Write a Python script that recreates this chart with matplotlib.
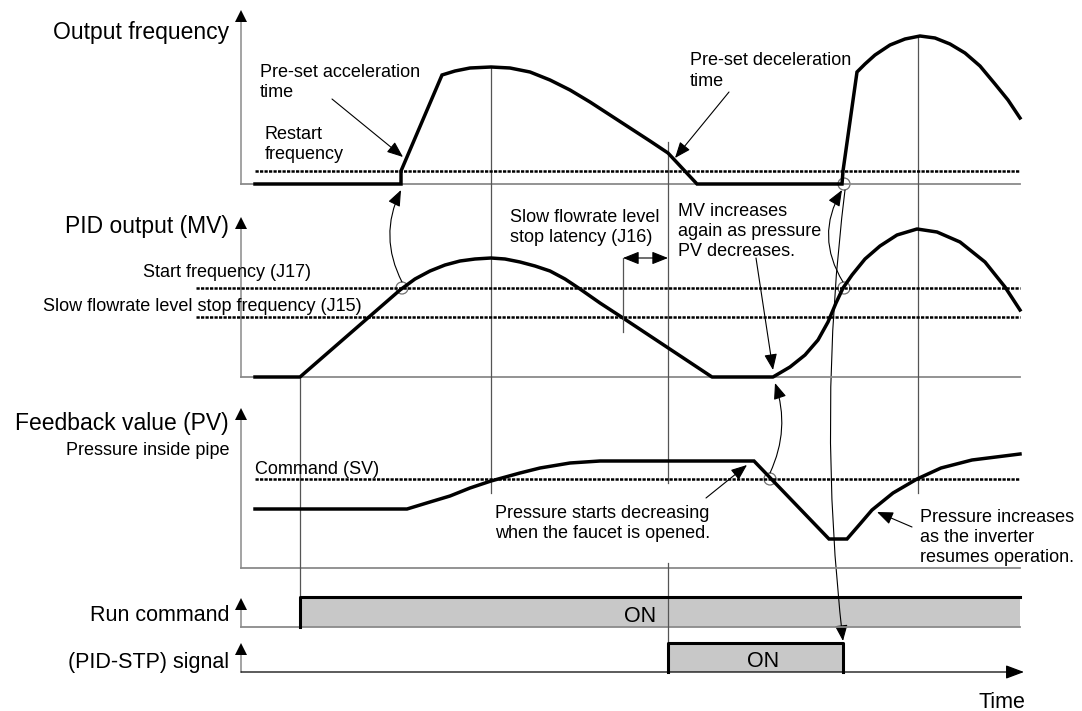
import matplotlib
matplotlib.use('Agg')
from matplotlib import pyplot as plt
from matplotlib.patches import Circle, FancyArrowPatch

plt.rcParams.update({'font.family': ['Liberation Sans', 'DejaVu Sans'], 'font.size': 13})
NARROW = ['Liberation Sans Narrow', 'Liberation Sans', 'DejaVu Sans']

# diagram units = pixels of the reference picture (y grows downward)
# output frequency waveform
freq_x = [255, 401, 401, 442, 455, 470, 491, 510, 530, 550, 570, 590, 610, 630, 650, 668, 697,
          842, 843, 857, 865, 875, 890, 905, 920, 935, 950, 965, 980, 995, 1008, 1020]
freq_y = [184, 184, 171, 75, 71, 68, 67, 68, 72, 80, 90, 102, 115, 128, 141, 153, 184,
          184, 171, 72, 64, 55, 45, 39, 36, 38, 44, 53, 66, 84, 100, 118]

# PID output (MV)
mv_x = [255, 300, 400, 415, 430, 445, 460, 475, 491, 505, 520, 535, 550, 565, 580, 600, 623, 712,
        773, 790, 805, 818, 828, 836, 843, 852, 865, 880, 897, 917, 937, 960, 985, 1005, 1020]
mv_y = [377, 377, 290, 279, 271, 265, 261, 259, 258, 259, 262, 266, 271, 279, 289, 303, 318, 377,
        377, 367, 355, 340, 322, 303, 288, 275, 259, 246, 235, 229, 232, 242, 262, 287, 310]

# feedback value (PV)
pv_x = [255, 407, 430, 450, 470, 491, 520, 540, 570, 600, 754, 829, 847, 860, 872, 893, 917, 941, 972, 996, 1020]
pv_y = [509, 509, 502, 496, 488, 481, 473, 468, 463, 461, 461, 539, 539, 524, 510, 493, 479, 468, 460, 457, 454]

# digital signals: on/off times and levels (low, high)
run_on = [300, 1020]
run_lv = [627, 597]
stp_on = [668, 843]
stp_lv = [672, 643]

# reference levels
restart_lv = 171
j17_lv = 288
j15_lv = 317
sv_lv = 479

# panel baselines and axis tops
base_y = [184, 377, 568, 627, 672]
axis_top = [10, 217, 408, 598, 643]
axis_x = 241
x_end = 1020

# event marker lines (x, y from, y to)
events = [(300, 377, 597), (491, 67, 493), (668, 142, 483), (668, 563, 643), (918, 36, 493)]

# crossing circles
circles_x = [844, 402, 844, 770]
circles_y = [184, 288, 288, 479]

fig = plt.figure(figsize=(10.82, 7.11), dpi=100)
ax = fig.add_axes([0, 0, 1, 1])
ax.set_xlim(0, 1082)
ax.set_ylim(711, 0)
ax.axis('off')

axc = '#8a8a8a'
thick = 2.5

# axes
for b, t in zip(base_y, axis_top):
    ax.plot([axis_x, axis_x], [b, t + 6], color=axc, lw=1.1)
    ax.plot(axis_x, t + 6, marker='^', color='k', ms=8, mew=0)
for b in base_y[:4]:
    ax.plot([axis_x, x_end], [b, b], color=axc, lw=1.3)
ax.annotate('', xy=(1024, base_y[4]), xytext=(axis_x, base_y[4]),
            arrowprops=dict(arrowstyle='-|>,head_length=0.8,head_width=0.3', color='k', lw=0.9,
                            mutation_scale=14, shrinkA=0, shrinkB=0))

# event lines
for x, y0, y1 in events:
    ax.plot([x, x], [y0, y1], color='#555555', lw=0.9)

# dashed reference levels
dash = dict(color='k', lw=1.8, dashes=(1.3, 0.5))
ax.plot([255, x_end], [restart_lv, restart_lv], **dash)
ax.plot([196, x_end], [j17_lv, j17_lv], **dash)
ax.plot([196, x_end], [j15_lv, j15_lv], **dash)
ax.plot([255, x_end], [sv_lv, sv_lv], **dash)

# waveforms
ax.plot(freq_x, freq_y, color='k', lw=thick, solid_joinstyle='miter')
ax.plot(mv_x, mv_y, color='k', lw=thick, solid_joinstyle='round')
ax.plot(pv_x, pv_y, color='k', lw=thick, solid_joinstyle='miter')

# digital signals
ax.fill_between(run_on, run_lv[0], run_lv[1], color='#c8c8c8', lw=0)
ax.plot([run_on[0], run_on[0], run_on[1]], [run_lv[0], run_lv[1], run_lv[1]], color='k', lw=2.2)
ax.fill_between(stp_on, stp_lv[0], stp_lv[1], color='#c8c8c8', lw=0)
ax.plot([stp_on[0], stp_on[0], stp_on[1], stp_on[1]], [stp_lv[0], stp_lv[1], stp_lv[1], stp_lv[0]],
        color='k', lw=2.2)

# circles
for cx, cy in zip(circles_x, circles_y):
    ax.add_patch(Circle((cx, cy), 6, fill=False, ec='#707070', lw=0.9))

# annotation arrows
def arrow(p0, p1, rad=0.0, style='-|>'):
    a = FancyArrowPatch(p0, p1, connectionstyle=f'arc3,rad={rad}',
                        arrowstyle=f'{style},head_length=0.7,head_width=0.28',
                        mutation_scale=14, color='k', lw=0.8, shrinkA=0, shrinkB=0)
    ax.add_patch(a)

arrow((332, 99), (403, 157))
arrow((729, 92), (675, 158))
arrow((756, 258), (773, 370))
arrow((706, 498), (747, 465))
arrow((912, 527), (877, 512))
arrow((623, 258), (668, 258), style='<|-|>')
ax.plot([623, 623], [258, 332], color='#555555', lw=0.9)
arrow((402, 282), (401, 190), rad=-0.25)
arrow((843, 282), (842, 190), rad=-0.3)
arrow((770, 473), (775, 383), rad=0.2)
arrow((845, 190), (843, 641), rad=0.06)

# labels
big = 16.5
ax.text(229, 39, 'Output frequency', fontsize=big, ha='right', va='baseline')
ax.text(229, 233, 'PID output (MV)', fontsize=big, ha='right', va='baseline')
ax.text(229, 430, 'Feedback value (PV)', fontsize=big, ha='right', va='baseline')
ax.text(229, 455, 'Pressure inside pipe', ha='right', va='baseline')
ax.text(229, 621, 'Run command', fontsize=15.5, family=NARROW, ha='right', va='baseline')
ax.text(229, 668, '(PID-STP) signal', fontsize=15.5, family=NARROW, ha='right', va='baseline')
ax.text(1025, 708, 'Time', fontsize=15.5, family=NARROW, ha='right', va='baseline')
ax.text(640, 622, 'ON', fontsize=15.5, family=NARROW, ha='center', va='baseline')
ax.text(763, 667, 'ON', fontsize=15.5, family=NARROW, ha='center', va='baseline')

ax.text(260, 77, 'Pre-set acceleration', va='baseline')
ax.text(260, 97, 'time', va='baseline')
ax.text(265, 139, 'Restart', va='baseline')
ax.text(265, 159, 'frequency', va='baseline')
ax.text(690, 65, 'Pre-set deceleration', va='baseline')
ax.text(690, 86, 'time', va='baseline')
ax.text(143, 277, 'Start frequency (J17)', va='baseline')
ax.text(43, 311, 'Slow flowrate level stop frequency (J15)', va='baseline')
ax.text(510, 222, 'Slow flowrate level', va='baseline')
ax.text(510, 242, 'stop latency (J16)', va='baseline')
ax.text(678, 216, 'MV increases', va='baseline')
ax.text(678, 236, 'again as pressure', va='baseline')
ax.text(678, 256, 'PV decreases.', va='baseline')
ax.text(255, 474, 'Command (SV)', va='baseline')
ax.text(495, 518, 'Pressure starts decreasing', va='baseline')
ax.text(495, 538, 'when the faucet is opened.', va='baseline')
ax.text(920, 522, 'Pressure increases', va='baseline')
ax.text(920, 542, 'as the inverter', va='baseline')
ax.text(920, 562, 'resumes operation.', va='baseline')

fig.savefig('out.png', dpi=100)
